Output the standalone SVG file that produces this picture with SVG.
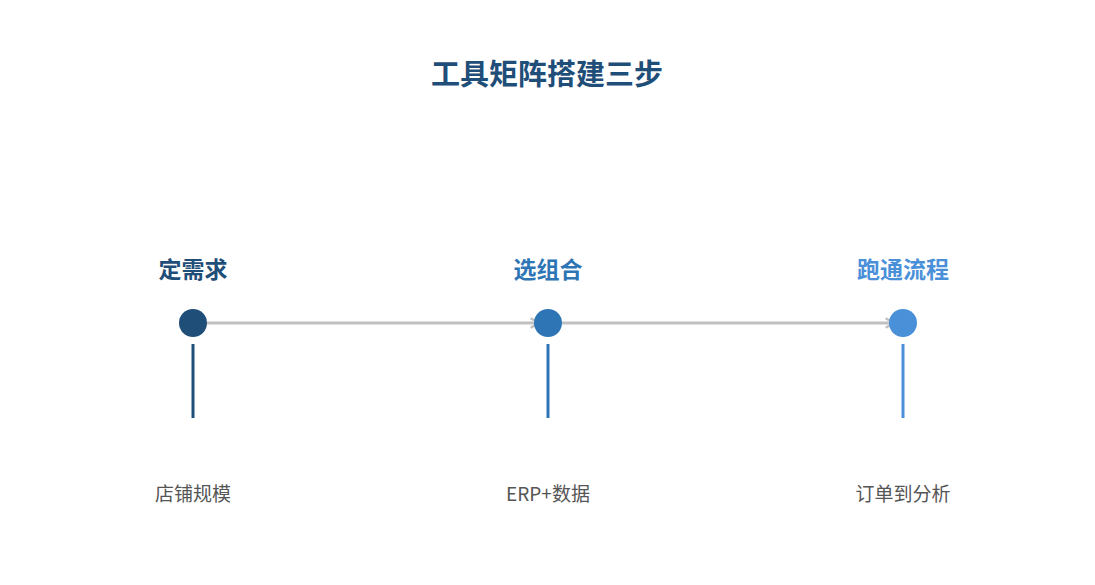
<svg xmlns="http://www.w3.org/2000/svg" width="1095" height="585" viewBox="0 0 1095 585">
<defs>
<style>
.title{font-family:"Noto Sans CJK SC","Noto Sans",sans-serif;font-weight:bold;font-size:29px;fill:#1f4e79;text-anchor:middle}
.lab{font-family:"Noto Sans CJK SC","Noto Sans",sans-serif;font-weight:bold;font-size:23px;text-anchor:middle}
.sub{font-family:"Noto Sans CJK SC","Noto Sans",sans-serif;font-size:19px;fill:#555555;text-anchor:middle}
.conn{stroke:#c0c0c0;stroke-width:3;fill:none}
</style>
<marker id="arr" viewBox="0 0 10 10" refX="8" refY="5" markerWidth="4" markerHeight="4" orient="auto" markerUnits="strokeWidth">
<path d="M1,1 L8,5 L1,9" fill="none" stroke="#c0c0c0" stroke-width="2"/>
</marker>
</defs>
<rect width="1095" height="585" fill="#ffffff"/>
<text class="title" x="547" y="85">工具矩阵搭建三步</text>
<g id="connectors">
<line class="conn" x1="207" y1="323" x2="539" y2="323" marker-end="url(#arr)"/>
<line class="conn" x1="562" y1="323" x2="894" y2="323" marker-end="url(#arr)"/>
</g>
<g id="node1">
<text class="lab" x="193" y="278" fill="#1f4e79">定需求</text>
<circle cx="193" cy="323" r="14" fill="#1f4e79"/>
<line x1="193" y1="344" x2="193" y2="418" stroke="#1f4e79" stroke-width="3"/>
<text class="sub" x="193" y="501">店铺规模</text>
</g>
<g id="node2">
<text class="lab" x="548" y="278" fill="#2e75b6">选组合</text>
<circle cx="548" cy="323" r="14" fill="#2e75b6"/>
<line x1="548" y1="344" x2="548" y2="418" stroke="#2e75b6" stroke-width="3"/>
<text class="sub" x="548" y="501">ERP+数据</text>
</g>
<g id="node3">
<text class="lab" x="903" y="278" fill="#4a90d9">跑通流程</text>
<circle cx="903" cy="323" r="14" fill="#4a90d9"/>
<line x1="903" y1="344" x2="903" y2="418" stroke="#4a90d9" stroke-width="3"/>
<text class="sub" x="903" y="501">订单到分析</text>
</g>
</svg>
